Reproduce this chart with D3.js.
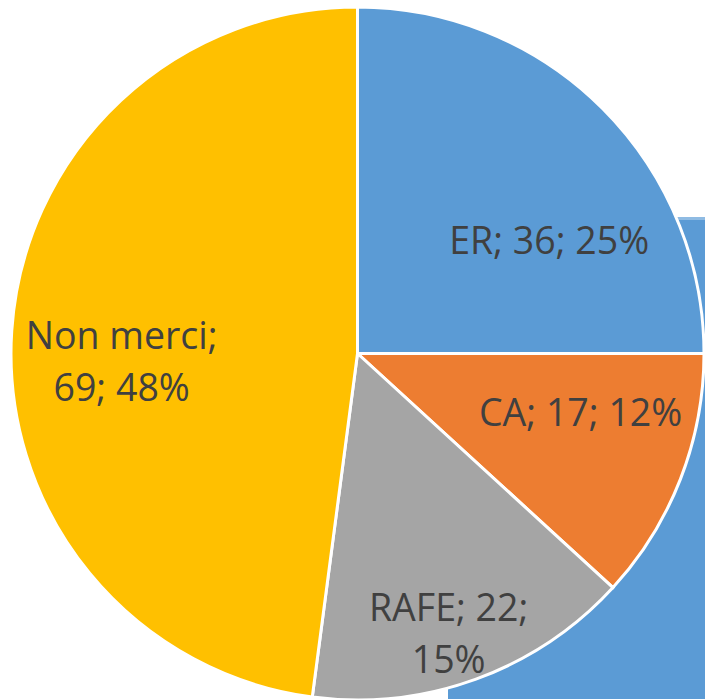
<!DOCTYPE html>
<html><head><meta charset="utf-8">
<script src="https://cdn.jsdelivr.net/npm/d3@7"></script>
<style>html,body{margin:0;padding:0;background:#fff;overflow:hidden}</style>
</head><body>
<svg id="chart" width="705" height="699"></svg>
<script>
const categories = ["ER", "CA", "RAFE", "Non merci"];
const values = [36, 17, 22, 69];
const percents = ["25%", "12%", "15%", "48%"];
const colors = ["#5B9BD5", "#ED7D31", "#A5A5A5", "#FFC000"];

// label layout (lines, polar placement relative to centre)
const labelLines = [
  [categories[0] + "; " + values[0] + "; " + percents[0]],
  [categories[1] + "; " + values[1] + "; " + percents[1]],
  [categories[2] + "; " + values[2] + ";", percents[2]],
  [categories[3] + ";", values[3] + "; " + percents[3]]
];
const labelPolar = [ // [angle deg from top clockwise, radius]
  [59.7, 222], [105, 231], [162, 295], [268, 236]
];

const svg = d3.select("#chart");
const cx = 357.5, cy = 353.5, R = 346.5;

// background blue shape behind the pie
svg.append("rect").attr("x", 448).attr("y", 217).attr("width", 260).attr("height", 490)
  .attr("fill", "#5B9BD5");
svg.append("rect").attr("x", 448).attr("y", 217).attr("width", 260).attr("height", 3)
  .attr("fill", "#8fbbe3");

const pie = d3.pie().value(d => d).sort(null);
const arc = d3.arc().innerRadius(0).outerRadius(R);
const g = svg.append("g").attr("transform", `translate(${cx},${cy})`);
g.selectAll("path").data(pie(values)).join("path")
  .attr("d", arc)
  .attr("fill", (d, i) => colors[i])
  .attr("stroke", "#fff").attr("stroke-width", 3).attr("stroke-linejoin", "miter");

const lg = g.selectAll("text").data(labelLines).join("text")
  .attr("text-anchor", "middle")
  .attr("font-family", "'Open Sans', sans-serif")
  .attr("font-size", 37.5)
  .attr("fill", "#404040")
  .attr("transform", (d, i) => {
    const a = labelPolar[i][0] * Math.PI / 180, r = labelPolar[i][1];
    return `translate(${r * Math.sin(a)},${-r * Math.cos(a)})`;
  });
lg.each(function(lines) {
  const t = d3.select(this);
  const n = lines.length, lh = 52;
  lines.forEach((s, k) => {
    t.append("tspan").attr("x", 0)
      .attr("y", (k - (n - 1) / 2) * lh + 13)
      .text(s);
  });
});
</script>
</body></html>
